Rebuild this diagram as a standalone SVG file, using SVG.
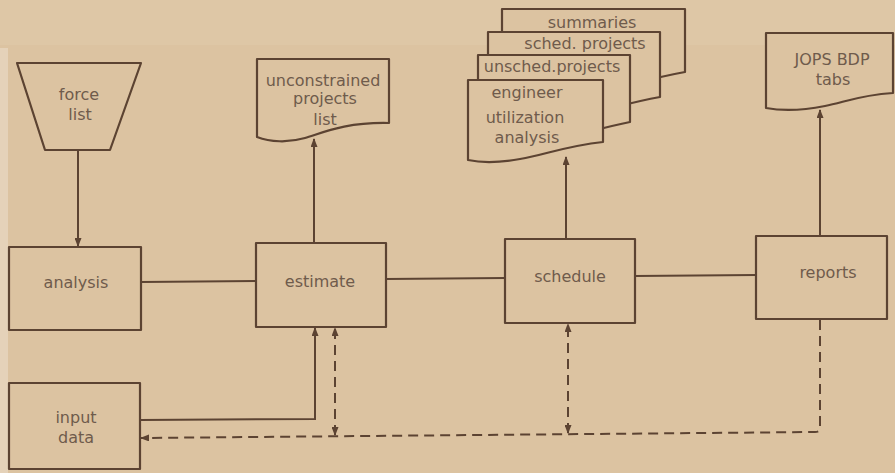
<svg xmlns="http://www.w3.org/2000/svg" width="895" height="473" viewBox="0 0 895 473">
<style>
.n{fill:#dcc3a1;stroke:#5c4332;stroke-width:2.2;stroke-linejoin:round}
.c{fill:none;stroke:#5c4332;stroke-width:2}
.d{fill:none;stroke:#5c4332;stroke-width:2;stroke-dasharray:10 6}
text{font-family:"DejaVu Sans","Liberation Sans",sans-serif;font-size:16px;fill:#6f5b4c;text-anchor:middle}
</style>
<defs>
<marker id="ah" markerUnits="userSpaceOnUse" markerWidth="9" markerHeight="7" refX="8" refY="3.5" orient="auto-start-reverse">
<path d="M0,0 L9,3.5 L0,7 z" fill="#5c4332"/>
</marker>
</defs>
<rect x="0" y="0" width="895" height="473" fill="#dcc3a1"/>
<rect x="0" y="0" width="895" height="45" fill="#e0c9aa" opacity="0.6"/>
<rect x="0" y="48" width="8" height="425" fill="#e5d2b9"/>

<g id="connectors">
<line class="c" x1="78" y1="150" x2="78" y2="246" marker-end="url(#ah)"/>
<line class="c" x1="141" y1="282" x2="256" y2="281"/>
<line class="c" x1="314" y1="243" x2="314" y2="139" marker-end="url(#ah)"/>
<line class="c" x1="386" y1="279" x2="505" y2="278"/>
<line class="c" x1="566" y1="239" x2="566" y2="157" marker-end="url(#ah)"/>
<line class="c" x1="635" y1="276" x2="756" y2="275"/>
<line class="c" x1="820" y1="236" x2="820" y2="110" marker-end="url(#ah)"/>
<polyline class="c" points="140,420 315,419 315,328" marker-end="url(#ah)"/>
<path class="d" d="M820,320 V428 Q820,432 815,432 L141,438" marker-end="url(#ah)"/>
<line class="d" x1="335" y1="435" x2="335" y2="328" marker-start="url(#ah)" marker-end="url(#ah)"/>
<line class="d" x1="568" y1="433" x2="568" y2="324" marker-start="url(#ah)" marker-end="url(#ah)"/>
</g>

<g id="force-list">
<polygon class="n" points="17,63 141,63 110,150 45,150"/>
<text x="79" y="100">force</text>
<text x="80" y="120">list</text>
</g>

<g id="analysis">
<rect class="n" x="9" y="247" width="132" height="83"/>
<text x="76" y="288">analysis</text>
</g>

<g id="estimate">
<rect class="n" x="256" y="243" width="130" height="84"/>
<text x="320" y="287">estimate</text>
</g>

<g id="unconstrained-projects-list">
<path class="n" d="M257,59 H389 V123 C345,122 322,133 305,138 C288,143 270,142 257,137 Z"/>
<text x="323" y="86">unconstrained</text>
<text x="325" y="104">projects</text>
<text x="325" y="125">list</text>
</g>

<g id="input-data">
<rect class="n" x="9" y="383" width="131" height="86"/>
<text x="76" y="423">input</text>
<text x="76" y="443">data</text>
</g>

<g id="schedule">
<rect class="n" x="505" y="239" width="130" height="84"/>
<text x="570" y="282">schedule</text>
</g>

<g id="reports">
<rect class="n" x="756" y="236" width="131" height="83"/>
<text x="828" y="278">reports</text>
</g>

<g id="summaries">
<path class="n" d="M502,9 H685 V72 C640,80 610,92 580,95 C550,98 525,97 502,95 Z"/>
<text x="592" y="28">summaries</text>
</g>

<g id="sched-projects">
<path class="n" d="M488,32 H660 V97 C620,104 590,116 560,118 C530,120 508,120 488,118 Z"/>
<text x="585" y="49">sched. projects</text>
</g>

<g id="unsched-projects">
<path class="n" d="M478,55 H630 V122 C590,130 565,140 540,142 C515,144 495,144 478,142 Z"/>
<text x="552" y="72">unsched.projects</text>
</g>

<g id="engineer-utilization-analysis">
<path class="n" d="M468,80 H603 V142 C565,146 545,155 520,159 C498,163 482,163 468,160 Z"/>
<text x="527" y="98">engineer</text>
<text x="525" y="123">utilization</text>
<text x="527" y="143">analysis</text>
</g>

<g id="jops-bdp-tabs">
<path class="n" d="M766,33 H893 V93 C860,95 845,102 825,106 C800,111 782,111 766,108 Z"/>
<text x="832" y="65">JOPS BDP</text>
<text x="833" y="85">tabs</text>
</g>
</svg>
